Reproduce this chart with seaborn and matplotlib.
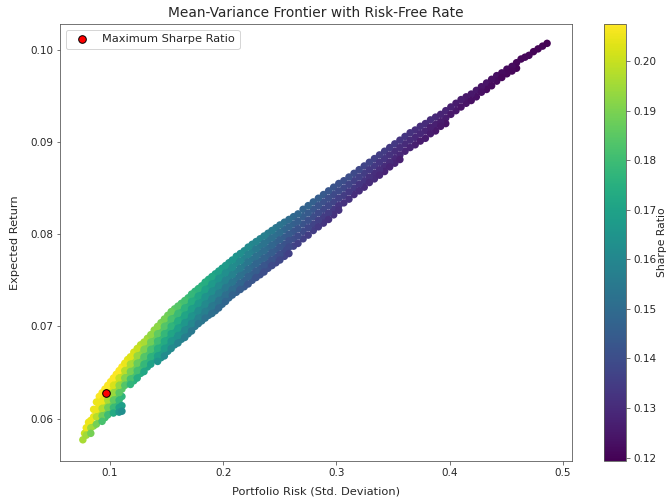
import matplotlib
matplotlib.use("Agg")
import matplotlib.pyplot as plt
from matplotlib.cm import ScalarMappable
from matplotlib.colors import Normalize
import pandas as pd
import seaborn as sns

TITLE = "Mean-Variance Frontier with Risk-Free Rate"
XLABEL = "Portfolio Risk (Std. Deviation)"
YLABEL = "Expected Return"
CBAR_LABEL = "Sharpe Ratio"
BEST_LABEL = "Maximum Sharpe Ratio"
best_risk = [0.0965]
best_return = [0.0628]
cbar_ticks = [0.12, 0.13, 0.14, 0.15, 0.16, 0.17, 0.18, 0.19, 0.20]

risk = [
    .076,
    .079, .079,
    .083, .083, .083,
    .088, .088, .088, .088,
    .093, .093, .093, .093, .093,
    .098, .098, .098, .098, .098,
    .103, .103, .103, .103, .103, .103,
    .108, .108, .108, .108, .108, .108, .108,
    .1105, .1105,
    .113, .113, .113, .113,
    .118, .118, .118, .118, .118,
    .124, .124, .124, .124, .124,
    .130, .130, .130, .130, .130,
    .136, .136, .136, .136, .136,
    .142, .142, .142, .142, .142, .142,
    .148, .148, .148, .148, .148, .148,
    .154, .154, .154, .154, .154, .154,
    .160, .160, .160, .160, .160, .160,
    .166, .166, .166, .166, .166, .166,
    .172, .172, .172, .172, .172, .172,
    .178, .178, .178, .178, .178, .178,
    .184, .184, .184, .184, .184, .184,
    .190, .190, .190, .190, .190, .190,
    .196, .196, .196, .196, .196, .196,
    .202, .202, .202, .202, .202, .202,
    .208, .208, .208, .208, .208, .208,
    .215, .215, .215, .215, .215, .215,
    .222, .222, .222, .222, .222, .222,
    .229, .229, .229, .229, .229, .229,
    .236, .236, .236, .236, .236, .236,
    .243, .243, .243, .243, .243, .243,
    .250, .250, .250, .250, .250, .250,
    .258, .258, .258, .258, .258, .258,
    .266, .266, .266, .266, .266,
    .275, .275, .275, .275, .275,
    .284, .284, .284, .284, .284,
    .293, .293, .293, .293, .293,
    .302, .302, .302, .302, .302,
    .311, .311, .311, .311,
    .320, .320, .320, .320,
    .329, .329, .329, .329,
    .338, .338, .338, .338,
    .347, .347, .347, .347,
    .356, .356, .356, .356,
    .365, .365, .365,
    .374, .374, .374,
    .383, .383, .383,
    .392, .392, .392,
    .401, .401,
    .410, .410,
    .419, .419,
    .428, .428,
    .437, .437,
    .446, .446,
    .455, .455,
    .463,
    .470,
    .478,
    .486,
]

expected_return = [
    .0577,
    .0590, .0582,
    .0598, .0590, .0584,
    .0618, .0610, .0602, .0594,
    .0628, .0619, .0611, .0603, .0597,
    .0636, .0628, .0620, .0612, .0604,
    .0644, .0636, .0628, .0620, .0612, .0606,
    .0652, .0644, .0636, .0628, .0620, .0612, .0607,
    .0614, .0608,
    .0660, .0652, .0644, .0636,
    .0667, .0659, .0651, .0643, .0637,
    .0676, .0668, .0660, .0652, .0644,
    .0683, .0675, .0667, .0659, .0651,
    .0691, .0683, .0675, .0667, .0659,
    .0700, .0692, .0684, .0676, .0668, .0662,
    .0708, .0700, .0692, .0684, .0676, .0668,
    .0716, .0708, .0700, .0692, .0684, .0676,
    .0722, .0714, .0706, .0698, .0690, .0682,
    .0728, .0720, .0712, .0704, .0696, .0688,
    .0735, .0727, .0719, .0711, .0703, .0695,
    .0741, .0733, .0725, .0717, .0709, .0703,
    .0748, .0740, .0732, .0724, .0716, .0709,
    .0754, .0746, .0738, .0730, .0722, .0714,
    .0760, .0752, .0744, .0736, .0728, .0720,
    .0766, .0758, .0750, .0742, .0734, .0727,
    .0772, .0764, .0756, .0748, .0740, .0734,
    .0779, .0771, .0763, .0755, .0747, .0740,
    .0786, .0778, .0770, .0762, .0754, .0746,
    .0792, .0784, .0776, .0768, .0760, .0753,
    .0798, .0790, .0782, .0774, .0766, .0759,
    .0804, .0796, .0788, .0780, .0772, .0766,
    .0810, .0802, .0794, .0786, .0778, .0772,
    .0816, .0808, .0800, .0793, .0786, .0779,
    .0822, .0814, .0806, .0798, .0790,
    .0831, .0823, .0815, .0807, .0799,
    .0839, .0831, .0823, .0815, .0808,
    .0847, .0839, .0831, .0823, .0816,
    .0855, .0847, .0839, .0831, .0826,
    .0862, .0854, .0846, .0838,
    .0870, .0862, .0854, .0847,
    .0878, .0870, .0862, .0856,
    .0886, .0878, .0870, .0864,
    .0894, .0886, .0878, .0873,
    .0902, .0894, .0886, .0881,
    .0910, .0902, .0894,
    .0917, .0909, .0901,
    .0924, .0916, .0909,
    .0930, .0922, .0917,
    .0938, .0930,
    .0946, .0938,
    .0952, .0945,
    .0960, .0954,
    .0968, .0961,
    .0975, .0970,
    .0982, .0977,
    .0990,
    .0994,
    .1001,
    .1007,
]

sharpe = [
    .196,
    .205, .195,
    .205, .195, .189,
    .205, .205, .198, .189,
    .207, .205, .197, .188, .182,
    .207, .204, .196, .188, .180,
    .207, .202, .194, .186, .179, .173,
    .207, .200, .193, .185, .178, .170, .166,
    .169, .163,
    .205, .198, .191, .184,
    .203, .196, .189, .182, .177,
    .200, .194, .187, .181, .174,
    .196, .190, .184, .178, .172,
    .193, .188, .182, .176, .170,
    .192, .186, .180, .175, .169, .165,
    .189, .184, .178, .173, .168, .162,
    .187, .182, .177, .171, .166, .161,
    .184, .179, .174, .169, .164, .159,
    .181, .176, .171, .166, .161, .157,
    .178, .174, .169, .165, .160, .155,
    .176, .171, .167, .162, .158, .154,
    .174, .170, .165, .161, .157, .153,
    .172, .167, .163, .159, .155, .151,
    .169, .165, .161, .157, .153, .149,
    .167, .163, .159, .155, .151, .148,
    .165, .162, .158, .154, .150, .147,
    .163, .160, .156, .152, .148, .145,
    .161, .158, .154, .150, .147, .143,
    .159, .155, .152, .148, .145, .142,
    .157, .153, .150, .147, .143, .140,
    .155, .151, .148, .145, .142, .139,
    .153, .150, .146, .143, .140, .138,
    .150, .147, .144, .141, .139, .136,
    .148, .145, .142, .139, .136,
    .147, .144, .141, .138, .135,
    .145, .142, .139, .136, .134,
    .143, .140, .138, .135, .132,
    .141, .139, .136, .133, .132,
    .140, .137, .134, .132,
    .138, .136, .133, .131,
    .137, .134, .132, .130,
    .135, .133, .131, .129,
    .134, .132, .130, .128,
    .133, .131, .129, .127,
    .132, .130, .128,
    .131, .129, .126,
    .130, .127, .126,
    .128, .126, .125,
    .127, .125,
    .126, .124,
    .125, .123,
    .124, .123,
    .123, .122,
    .122, .121,
    .122, .121,
    .121,
    .121,
    .120,
    .119,
]

risk_between = [
    .0775,
    .081, .081,
    .0855, .0855, .0855,
    .0905, .0905, .0905, .0905,
    .0955, .0955, .0955, .0955, .0955,
    .1005, .1005, .1005, .1005, .1005,
    .1055, .1055, .1055, .1055, .1055, .1055,
    .1105, .1105, .1105, .1105, .1105,
    .1155, .1155, .1155, .1155,
    .121, .121, .121, .121, .121,
    .127, .127, .127, .127, .127,
    .133, .133, .133, .133, .133,
    .139, .139, .139, .139, .139,
    .145, .145, .145, .145, .145, .145,
    .151, .151, .151, .151, .151, .151,
    .157, .157, .157, .157, .157, .157,
    .163, .163, .163, .163, .163, .163,
    .169, .169, .169, .169, .169, .169,
    .175, .175, .175, .175, .175, .175,
    .181, .181, .181, .181, .181, .181,
    .187, .187, .187, .187, .187, .187,
    .193, .193, .193, .193, .193, .193,
    .199, .199, .199, .199, .199, .199,
    .205, .205, .205, .205, .205, .205,
    .2115, .2115, .2115, .2115, .2115, .2115,
    .2185, .2185, .2185, .2185, .2185, .2185,
    .2255, .2255, .2255, .2255, .2255, .2255,
    .2325, .2325, .2325, .2325, .2325, .2325,
    .2395, .2395, .2395, .2395, .2395, .2395,
    .2465, .2465, .2465, .2465, .2465, .2465,
    .254, .254, .254, .254, .254, .254,
    .262, .262, .262, .262, .262,
    .2705, .2705, .2705, .2705, .2705,
    .2795, .2795, .2795, .2795, .2795,
    .2885, .2885, .2885, .2885, .2885,
    .2975, .2975, .2975, .2975, .2975,
    .3065, .3065, .3065, .3065,
    .3155, .3155, .3155, .3155,
    .3245, .3245, .3245, .3245,
    .3335, .3335, .3335, .3335,
    .3425, .3425, .3425, .3425,
    .3515, .3515, .3515, .3515,
    .3605, .3605, .3605,
    .3695, .3695, .3695,
    .3785, .3785, .3785,
    .3875, .3875, .3875,
    .3965, .3965, .3965,
    .4055, .4055,
    .4145, .4145,
    .4235, .4235,
    .4325, .4325,
    .4415, .4415,
    .4505, .4505,
    .459, .459,
    .4665,
    .474,
    .482,
]

return_between = [
    .0584,
    .0596, .0588,
    .0610, .0602, .0592,
    .0624, .0614, .0606, .0598,
    .0632, .0624, .0616, .0608, .0601,
    .0640, .0632, .0624, .0616, .0608,
    .0648, .0640, .0632, .0624, .0616, .0608,
    .0656, .0648, .0640, .0632, .0624,
    .0664, .0656, .0648, .0640,
    .0672, .0664, .0656, .0648, .0641,
    .0680, .0672, .0664, .0656, .0649,
    .0687, .0679, .0671, .0663, .0656,
    .0696, .0688, .0680, .0672, .0664,
    .0704, .0696, .0688, .0680, .0672, .0666,
    .0712, .0704, .0696, .0688, .0680, .0673,
    .0719, .0711, .0703, .0695, .0687, .0680,
    .0725, .0717, .0709, .0701, .0693, .0686,
    .0731, .0723, .0715, .0707, .0699, .0692,
    .0738, .0730, .0722, .0714, .0706, .0700,
    .0744, .0736, .0728, .0720, .0712, .0706,
    .0751, .0743, .0735, .0727, .0719, .0712,
    .0757, .0749, .0741, .0733, .0725, .0717,
    .0763, .0755, .0747, .0739, .0731, .0724,
    .0769, .0761, .0753, .0745, .0737, .0731,
    .0776, .0768, .0760, .0752, .0744, .0737,
    .0782, .0774, .0766, .0758, .0750, .0743,
    .0789, .0781, .0773, .0765, .0757, .0750,
    .0795, .0787, .0779, .0771, .0763, .0756,
    .0801, .0793, .0785, .0777, .0769, .0763,
    .0807, .0799, .0791, .0783, .0775, .0769,
    .0813, .0805, .0797, .0789, .0782, .0776,
    .0819, .0811, .0803, .0795, .0787,
    .0827, .0819, .0811, .0803, .0795,
    .0835, .0827, .0819, .0811, .0804,
    .0843, .0835, .0827, .0819, .0812,
    .0851, .0843, .0835, .0827, .0821,
    .0858, .0850, .0842, .0834,
    .0866, .0858, .0850, .0843,
    .0874, .0866, .0858, .0851,
    .0882, .0874, .0866, .0860,
    .0890, .0882, .0874, .0868,
    .0898, .0890, .0882, .0877,
    .0906, .0898, .0890,
    .0913, .0905, .0897,
    .0920, .0912, .0904,
    .0927, .0919, .0912,
    .0934, .0926, .0920,
    .0942, .0934,
    .0949, .0942,
    .0956, .0949,
    .0964, .0957,
    .0972, .0966,
    .0979, .0974,
    .0986, .0980,
    .0992,
    .0998,
    .1004,
]

sharpe_between = [
    .200,
    .205, .197,
    .205, .205, .192,
    .207, .205, .197, .188,
    .207, .205, .197, .189, .181,
    .207, .203, .195, .187, .179,
    .207, .201, .193, .186, .178, .171,
    .207, .199, .192, .185, .177,
    .204, .197, .190, .184,
    .202, .195, .188, .182, .176,
    .198, .192, .186, .180, .174,
    .195, .189, .183, .177, .171,
    .193, .187, .181, .176, .170,
    .190, .185, .179, .174, .168, .164,
    .188, .183, .177, .172, .167, .162,
    .185, .180, .175, .170, .165, .161,
    .182, .177, .172, .167, .163, .158,
    .179, .175, .170, .165, .160, .156,
    .177, .173, .168, .163, .159, .155,
    .175, .170, .166, .161, .157, .154,
    .173, .168, .164, .160, .156, .152,
    .170, .166, .162, .158, .154, .150,
    .168, .164, .160, .156, .152, .149,
    .166, .162, .159, .155, .151, .148,
    .165, .161, .157, .153, .149, .146,
    .162, .158, .155, .151, .147, .144,
    .160, .157, .153, .149, .146, .143,
    .158, .154, .151, .148, .144, .141,
    .156, .152, .149, .146, .142, .140,
    .154, .151, .147, .144, .141, .138,
    .152, .148, .145, .142, .139, .137,
    .149, .146, .143, .140, .137,
    .147, .145, .142, .139, .136,
    .146, .143, .140, .137, .135,
    .144, .141, .138, .135, .133,
    .142, .139, .137, .134, .132,
    .140, .138, .135, .132,
    .139, .136, .134, .131,
    .137, .135, .133, .130,
    .136, .134, .131, .130,
    .135, .133, .130, .128,
    .134, .131, .129, .128,
    .133, .130, .128,
    .131, .129, .127,
    .130, .128, .126,
    .129, .127, .125,
    .128, .126, .124,
    .126, .125,
    .125, .124,
    .125, .123,
    .124, .122,
    .123, .122,
    .122, .121,
    .121, .120,
    .121,
    .120,
    .120,
]

W, H = 669, 500
DARK = "#262626"
EDGE = "#555555"
fig = plt.figure(figsize=(W / 72, H / 72), dpi=72)
ax = fig.add_axes([60 / W, 1 - 461 / H, (572 - 60) / W, (461 - 24) / H])
cax = fig.add_axes([604 / W, 1 - 461 / H, (626 - 604) / W, (461 - 24) / H])

frame = pd.DataFrame({
    "risk": risk_between + risk,
    "ret": return_between + expected_return,
    "sharpe": sharpe_between + sharpe,
})
vmin, vmax = 0.1193, 0.2075
sns.scatterplot(
    data=frame, x="risk", y="ret", hue="sharpe", palette="viridis",
    hue_norm=(vmin, vmax), s=56, linewidth=0, alpha=1, legend=False, ax=ax,
)
sns.scatterplot(
    x=best_risk, y=best_return, color="red", edgecolor="black", linewidth=1,
    s=58, label=BEST_LABEL, zorder=5, ax=ax,
)

ax.set_xlim(0.0558, 0.508)
ax.set_ylim(0.0554, 0.1028)
ax.set_xticks([0.1, 0.2, 0.3, 0.4, 0.5])
ax.set_yticks([0.06, 0.07, 0.08, 0.09, 0.10])
ax.set_yticklabels(["0.06", "0.07", "0.08", "0.09", "0.10"])
ax.tick_params(labelsize=10.4, labelcolor=DARK, color=EDGE)
for spine in ax.spines.values():
    spine.set_edgecolor(EDGE)
ax.set_title(TITLE, fontsize=13.8, color=DARK, pad=7)
ax.set_xlabel(XLABEL, fontsize=11.4, color=DARK, labelpad=9)
ax.set_ylabel(YLABEL, fontsize=11.4, color=DARK, labelpad=10)
ax.legend(loc="upper left", fontsize=11.4, labelcolor=DARK)

cbar = fig.colorbar(ScalarMappable(norm=Normalize(vmin, vmax), cmap="viridis"), cax=cax)
cbar.set_ticks(cbar_ticks)
cbar.set_ticklabels([f"{t:.2f}" for t in cbar_ticks])
cbar.ax.tick_params(labelsize=10.4, labelcolor=DARK, color=EDGE)
cbar.outline.set_edgecolor(EDGE)
cbar.set_label(CBAR_LABEL, fontsize=10.8, color=DARK, labelpad=1)

fig.savefig("out.png", dpi=72)
